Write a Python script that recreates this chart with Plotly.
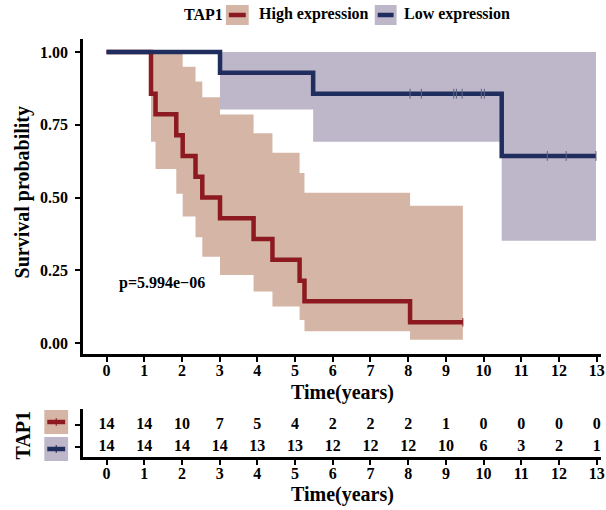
import plotly.graph_objects as go

# ---------------- data ----------------
high_time = [0, 1.18, 1.30, 1.85, 2.02, 2.36, 2.54, 3.01, 3.90, 4.40, 5.12, 5.25, 8.05, 9.45]
high_surv = [1.0, 0.857, 0.786, 0.714, 0.643, 0.571, 0.500, 0.429, 0.357, 0.286, 0.214, 0.143, 0.071, 0.071]
high_ci_time = [1.18, 1.30, 1.85, 2.02, 2.36, 2.54, 3.01, 3.90, 4.40, 5.12, 5.25, 8.05, 9.45]
high_upper = [1.0, 1.0, 0.995, 0.950, 0.899, 0.845, 0.785, 0.721, 0.654, 0.584, 0.516, 0.472, 0.472]
high_lower = [0.692, 0.598, 0.513, 0.435, 0.363, 0.296, 0.234, 0.177, 0.125, 0.079, 0.040, 0.011, 0.011]
high_censor_time = [9.45]
high_censor_surv = [0.071]

low_time = [0, 3.01, 5.48, 10.48, 12.98]
low_surv = [1.0, 0.929, 0.857, 0.643, 0.643]
low_ci_time = [3.01, 5.48, 10.48, 12.98]
low_upper = [1.0, 1.0, 1.0, 1.0]
low_lower = [0.803, 0.692, 0.351, 0.351]
low_censor_time = [8.05, 8.35, 9.21, 9.28, 9.43, 9.94, 10.02, 11.69, 12.19, 12.98]
low_censor_surv = [0.857, 0.857, 0.857, 0.857, 0.857, 0.857, 0.857, 0.643, 0.643, 0.643]

risk_times = [0, 1, 2, 3, 4, 5, 6, 7, 8, 9, 10, 11, 12, 13]
high_risk = [14, 14, 10, 7, 5, 4, 2, 2, 2, 1, 0, 0, 0, 0]
low_risk = [14, 14, 14, 14, 13, 13, 12, 12, 12, 10, 6, 3, 2, 1]

group_title = "TAP1"
group_names = ["High expression", "Low expression"]
p_text = "p=5.994e\u221206"

# ---------------- styles ----------------
RED = "rgb(140,26,32)"
RED_FILL = "rgb(213,182,166)"
BLUE = "rgb(31,46,94)"
BLUE_FILL = "rgb(190,182,201)"
FONT = "Liberation Serif"

W, H = 606, 510
ML, MR, MT, MB = 83, 1, 39, 53
PW, PH = W - ML - MR, H - MT - MB


def px(x):
    return (x - ML) / PW


def py(y):
    return (H - MB - y) / PH


fig = go.Figure()

# confidence bands
fig.add_trace(go.Scatter(x=high_ci_time, y=high_upper, mode="lines", line=dict(width=0, shape="hv"),
                         hoverinfo="skip", showlegend=False))
fig.add_trace(go.Scatter(x=high_ci_time, y=high_lower, mode="lines", line=dict(width=0, shape="hv"),
                         fill="tonexty", fillcolor=RED_FILL, hoverinfo="skip", showlegend=False))
fig.add_trace(go.Scatter(x=low_ci_time, y=low_upper, mode="lines", line=dict(width=0, shape="hv"),
                         hoverinfo="skip", showlegend=False))
fig.add_trace(go.Scatter(x=low_ci_time, y=low_lower, mode="lines", line=dict(width=0, shape="hv"),
                         fill="tonexty", fillcolor=BLUE_FILL, hoverinfo="skip", showlegend=False))

# survival curves
fig.add_trace(go.Scatter(x=high_time, y=high_surv, mode="lines", name=group_names[0],
                         line=dict(color=RED, width=4.5, shape="hv"), showlegend=False))
fig.add_trace(go.Scatter(x=low_time, y=low_surv, mode="lines", name=group_names[1],
                         line=dict(color=BLUE, width=4.5, shape="hv"), showlegend=False))

# censor marks
fig.add_trace(go.Scatter(x=high_censor_time, y=high_censor_surv, mode="markers", showlegend=False,
                         marker=dict(symbol="line-ns", size=6, line=dict(width=1, color=RED))))
fig.add_trace(go.Scatter(x=low_censor_time, y=low_censor_surv, mode="markers", showlegend=False,
                         marker=dict(symbol="line-ns", size=7, line=dict(width=1, color="rgb(95,100,130)"))))

# risk table
fig.add_trace(go.Scatter(x=risk_times, y=[2] * len(risk_times), mode="text", text=[str(v) for v in high_risk],
                         textfont=dict(family=FONT, size=16, color="black", weight="bold"),
                         xaxis="x2", yaxis="y2", showlegend=False, hoverinfo="skip", cliponaxis=False))
fig.add_trace(go.Scatter(x=risk_times, y=[1] * len(risk_times), mode="text", text=[str(v) for v in low_risk],
                         textfont=dict(family=FONT, size=16, color="black", weight="bold"),
                         xaxis="x2", yaxis="y2", showlegend=False, hoverinfo="skip", cliponaxis=False))

xrange = [(ML - 106.7) / 38.0, (W - MR - 106.7) / 38.0]
tickfont = dict(family=FONT, size=16, color="black", weight="bold")
axis_common = dict(showline=True, linecolor="black", linewidth=2.5, ticks="outside", ticklen=5,
                   tickwidth=2, tickcolor="black", showgrid=False, zeroline=False, tickfont=tickfont,
                   ticklabeloverflow="allow")

fig.update_layout(
    width=W, height=H,
    margin=dict(l=ML, r=MR, t=MT, b=MB),
    paper_bgcolor="white", plot_bgcolor="white",
    showlegend=False,
    xaxis=dict(domain=[0, 1], range=xrange, tickvals=risk_times, anchor="y", ticklabelstandoff=-5,
               **axis_common),
    yaxis=dict(domain=[py(354), 1], range=[-0.038, 1.045], tickvals=[0, 0.25, 0.5, 0.75, 1.0],
               ticktext=["0.00", "0.25", "0.50", "0.75", "1.00"], anchor="x", ticklabelstandoff=4,
               **axis_common),
    xaxis2=dict(domain=[0, 1], range=xrange, tickvals=risk_times, anchor="y2", ticklabelstandoff=-5,
                **axis_common),
    yaxis2=dict(domain=[0, py(409)], range=[0.545, 2.727], tickvals=[1, 2], showticklabels=False,
                anchor="x2", **axis_common),
)

annots = []
title_font = dict(family=FONT, size=20, color="black", weight="bold")
leg_font = dict(family=FONT, size=16, color="black", weight="bold")
annots.append(dict(text="Time(years)", x=0.5, y=py(392), xref="paper", yref="paper", showarrow=False,
                   xanchor="center", yanchor="middle", font=title_font))
annots.append(dict(text="Time(years)", x=0.5, y=py(495), xref="paper", yref="paper", showarrow=False,
                   xanchor="center", yanchor="middle", font=title_font))
annots.append(dict(text="Survival probability", x=px(22), y=py(192), xref="paper", yref="paper",
                   showarrow=False, textangle=-90, xanchor="center", yanchor="middle", font=title_font))
annots.append(dict(text=group_title, x=px(23), y=py(435), xref="paper", yref="paper",
                   showarrow=False, textangle=-90, xanchor="center", yanchor="middle", font=title_font))
annots.append(dict(text=p_text, x=0.27, y=0.206, xref="x", yref="y", showarrow=False,
                   xanchor="left", yanchor="middle", font=leg_font))
# top legend
annots.append(dict(text=group_title, x=px(183), y=py(14), xref="paper", yref="paper", showarrow=False,
                   xanchor="left", yanchor="middle", font=leg_font))
annots.append(dict(text=group_names[0], x=px(258), y=py(14), xref="paper", yref="paper", showarrow=False,
                   xanchor="left", yanchor="middle", font=leg_font))
annots.append(dict(text=group_names[1], x=px(404), y=py(14), xref="paper", yref="paper", showarrow=False,
                   xanchor="left", yanchor="middle", font=leg_font))

shapes = []


def key(x0, x1, y0, y1, fillc, linec, tick):
    shapes.append(dict(type="rect", xref="paper", yref="paper", x0=px(x0), x1=px(x1), y0=py(y1), y1=py(y0),
                       fillcolor=fillc, line=dict(width=0), layer="above"))
    yc = (y0 + y1) / 2
    shapes.append(dict(type="line", xref="paper", yref="paper", x0=px(x0 + 3), x1=px(x1 - 3), y0=py(yc),
                       y1=py(yc), line=dict(color=linec, width=4.5), layer="above"))
    if tick:
        xc = (x0 + x1) / 2
        shapes.append(dict(type="line", xref="paper", yref="paper", x0=px(xc), x1=px(xc), y0=py(yc - 4),
                           y1=py(yc + 4), line=dict(color=linec, width=1), layer="above"))


key(227, 250, 5, 25, RED_FILL, RED, False)
key(377, 399, 5, 25, BLUE_FILL, BLUE, False)
key(44, 68, 410, 434, RED_FILL, RED, True)
key(44, 68, 437, 461, BLUE_FILL, BLUE, True)

fig.update_layout(annotations=annots, shapes=shapes)
fig.write_html("out.html", config={"displayModeBar": False},
               post_script="document.body.style.margin='0px';document.body.style.overflow='hidden';")
